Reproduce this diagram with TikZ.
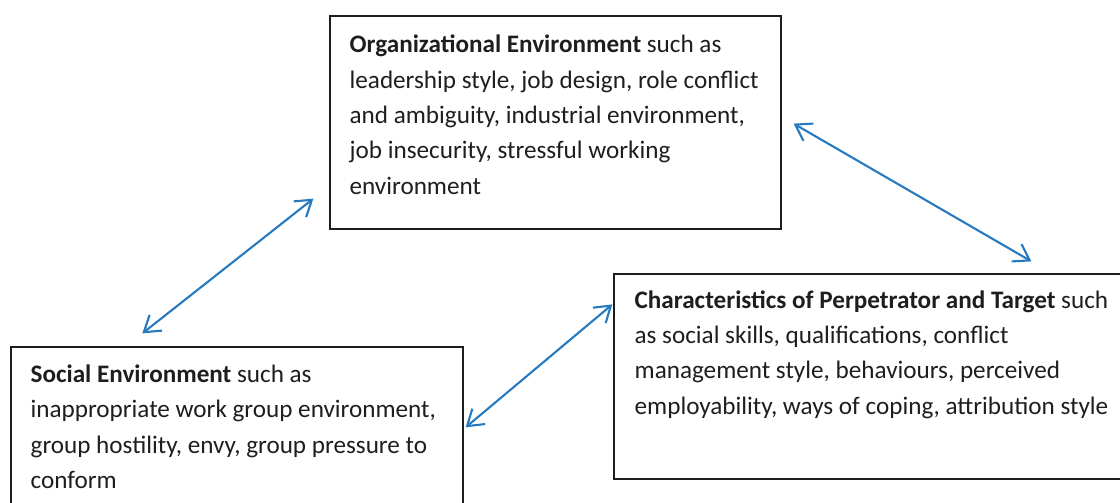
\documentclass[tikz,border=0pt]{standalone}
\usepackage{fontspec}
\setmainfont{Carlito}
\usepackage{tikz}
\usetikzlibrary{positioning}
\usetikzlibrary{arrows.meta}

\definecolor{linkblue}{RGB}{40,122,192}
\definecolor{inkgray}{RGB}{30,30,30}

\begin{document}
\begin{tikzpicture}[
    box/.style={draw=inkgray, line width=0.9pt, rectangle, inner sep=0pt},
    txt/.style={inner sep=0pt, align=left, text=inkgray,
                font=\fontsize{17.9}{25.1}\selectfont},
    link/.style={draw=linkblue, line width=1.5pt,
                 {Straight Barb[length=0.38cm,width=0.5cm]}-{Straight Barb[length=0.38cm,width=0.5cm]}}]
            \useasboundingbox (0,0) rectangle (28,12.55);
            \clip (0,0) rectangle (28,12.55);
            % Boxes
            \node[box, minimum width=11.275cm, minimum height=5.325cm] (org) at (13.8875,9.4875) {};
            \node[box, minimum width=11.3cm, minimum height=4.45cm] (social) at (5.925,1.65) {};
            \node[box, minimum width=12.9cm, minimum height=5.125cm] (traits) at (21.8,3.1375) {};

            % Texts
            \node[txt, below right=0.49cm and 0.5cm of org.north west] (orgtext)
              {\textbf{Organizational Environment} such as\\
               leadership style, job design, role conflict\\
               and ambiguity, industrial environment,\\
               job insecurity, stressful working\\
               environment};
            \node[txt, below right=0.46cm and 0.5cm of social.north west] (socialtext)
              {\textbf{Social Environment} such as\\
               inappropriate work group environment,\\
               group hostility, envy, group pressure to\\
               conform};
            \node[txt, below right=0.42cm and 0.525cm of traits.north west] (traitstext)
              {\textbf{Characteristics of Perpetrator and Target} such\\
               as social skills, qualifications, conflict\\
               management style, behaviours, perceived\\
               employability, ways of coping, attribution style};

            % Arrows
            \draw[link] ([xshift=3.3cm,yshift=0.325cm]social.north west) -- ([xshift=-0.4cm,yshift=0.775cm]org.south west);
            \draw[link] ([xshift=0.05cm,yshift=-2.025cm]social.north east) -- ([xshift=-0.025cm,yshift=-0.775cm]traits.north west);
            \draw[link] ([xshift=0.3cm,yshift=2.65cm]org.south east) -- ([xshift=10.45cm,yshift=0.3cm]traits.north west);
\end{tikzpicture}
\end{document}
